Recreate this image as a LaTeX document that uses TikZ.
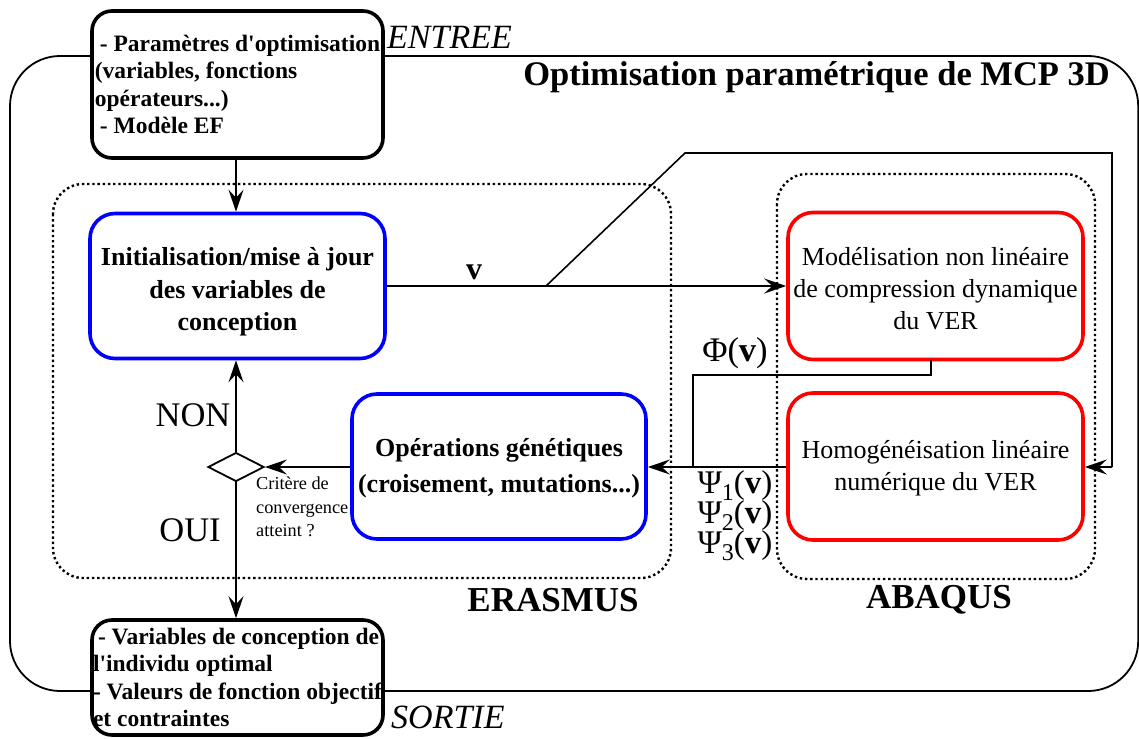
\documentclass[tikz,border=0pt]{standalone}
\usepackage{fontspec}
\IfFontExistsTF{LiberationSerif-Regular.ttf}{%
\setmainfont{LiberationSerif}[Extension=.ttf,UprightFont=*-Regular,BoldFont=*-Bold,ItalicFont=*-Italic,BoldItalicFont=*-BoldItalic]%
\newfontfamily\nolig{LiberationSerif}[Extension=.ttf,UprightFont=*-Regular,BoldFont=*-Bold]}{%
\setmainfont{Liberation Serif}\newfontfamily\nolig{Liberation Serif}}
\newcommand{\apos}{{\nolig '}}
\usetikzlibrary{shapes.geometric,arrows.meta}
\definecolor{bblue}{RGB}{0,0,255}
\definecolor{rred}{RGB}{255,0,0}
\tikzset{
  iobox/.style={draw=black,line width=3.6pt,rounded corners=20pt,fill=white,inner sep=0pt,minimum width=291pt,align=left,font=\bfseries\fontsize{23.5}{27.6}\selectfont},
  bluebox/.style={draw=bblue,line width=3.6pt,rounded corners=25pt,fill=white,inner sep=0pt,minimum width=295pt,minimum height=145pt},
  redbox/.style={draw=rred,line width=3.6pt,rounded corners=25pt,fill=white,inner sep=0pt,minimum width=295pt,minimum height=147pt},
  bluetxt/.style={inner sep=0pt,align=center,font=\bfseries\fontsize{26}{32.5}\selectfont},
  redtxt/.style={inner sep=0pt,align=center,font=\fontsize{26}{32}\selectfont},
  zone/.style={line width=2.4pt,dash pattern=on 2.4pt off 2.8pt,rounded corners=30pt},
  conn/.style={line width=1.6pt},
  arr/.style={line width=1.6pt,-{Stealth[length=22pt,width=15pt,inset=8pt]}},
  lbl/.style={inner sep=0pt},
  big/.style={font=\fontsize{34.5}{40}\selectfont},
}
\newcommand{\psisub}[1]{Ψ\raisebox{-7pt}{\fontsize{24}{24}\selectfont #1}(\textbf{v})}
\begin{document}
\begin{tikzpicture}[x=1pt,y=-1pt]
\useasboundingbox (0,0) rectangle (1139,738);
% outer frame
\draw[line width=1.8pt,rounded corners=50pt] (10,56) rectangle (1138.2,691);
\node[lbl,anchor=east,font=\bfseries\fontsize{34.5}{40}\selectfont] (title) at (1110,77) {Optimisation paramétrique de MCP 3D};
% zones
\draw[zone] (53,184) rectangle (671,578);
\draw[zone] (777,174) rectangle (1095,579);
\node[lbl,font=\bfseries\fontsize{35}{40}\selectfont] (erasmus) at (553,600) {ERASMUS};
\node[lbl,font=\bfseries\fontsize{35}{40}\selectfont] (abaqus) at (939,600) {ABAQUS};
% io boxes
\node[iobox,minimum height=147pt] (in) at (237.5,84.5) {\hspace*{5pt}- Paramètres d\apos optimisation\\(variables, fonctions\\opérateurs...)\\\hspace*{5pt}- Modèle EF};
\node[lbl,anchor=west,font=\itshape\fontsize{34}{40}\selectfont] (entree) at (387,37) {ENTREE};
\node[iobox,minimum height=115pt] (out) at (237.5,677.5) {\hspace*{5pt}- Variables de conception de\\l\apos individu optimal\\- Valeurs de fonction objectif\\et contraintes};
\node[lbl,anchor=west,font=\itshape\fontsize{34}{40}\selectfont] (sortie) at (391,717) {SORTIE};
% process boxes
\node[bluebox] (init) at (237.5,286) {};
\node[bluetxt] (initt) at (237.5,292) {Initialisation/mise à jour\\des variables de\\conception};
\node[bluebox,minimum width=294pt] (ops) at (499,466.5) {};
\node[bluetxt,font=\bfseries\fontsize{26}{36}\selectfont] (opst) at (499,468.5) {Opérations génétiques\\(croisement, mutations...)};
\node[redbox] (mod) at (935.5,286) {};
\node[redtxt] (modt) at (935.5,289) {Modélisation non linéaire\\de compression dynamique\\du VER};
\node[redbox] (hom) at (935.5,466.5) {};
\node[redtxt] (homt) at (935.5,468.5) {Homogénéisation linéaire\\numérique du VER};
% decision
\node[draw,line width=1.8pt,diamond,minimum width=56pt,minimum height=29pt,inner sep=0pt,fill=white] (dec) at (236,467) {};
\node[lbl,anchor=north west,align=left,font=\fontsize{18.3}{23.5}\selectfont] (crit) at (256,477) {Critère de\\convergence\\atteint ?};
% connectors
\draw[arr] (in.south -| dec.north) -- (dec.north |- init.north);
\draw[arr] (dec.north) -- (dec.north |- init.south);
\draw[arr] (dec.south) -- (dec.south |- out.north);
\draw[arr] (ops.west |- dec.east) -- (dec.east);
\node[lbl,big] (non) at (193,415) {NON};
\node[lbl,big] (oui) at (190,530) {OUI};
\draw[arr] (init.east) -- (mod.west);
\node[lbl,font=\bfseries\fontsize{32}{36}\selectfont] (v) at (474,272) {v};
\coordinate (split) at (546,286);
\coordinate (c1) at (685,153);
\coordinate (c2) at (1112,153);
\coordinate (c3) at (1112,467);
\draw[conn] (split) -- (c1) -- (c2) -- (c3);
\draw[arr] (c3) -- (hom.east |- c3);
\coordinate (p0) at (931,360);
\coordinate (p1) at (931,375);
\coordinate (p2) at (693,375);
\coordinate (p3) at (693,467);
\draw[conn] (p0) -- (p1) -- (p2) -- (p3);
\draw[arr] (hom.west |- p3) -- (ops.east |- p3);
\node[lbl,big] (phi) at (735,353) {Φ(\textbf{v})};
\node[lbl,align=center,font=\fontsize{33}{30}\selectfont] (psi) at (735,516) {\psisub{1}\\\psisub{2}\\\psisub{3}};
\end{tikzpicture}
\end{document}
